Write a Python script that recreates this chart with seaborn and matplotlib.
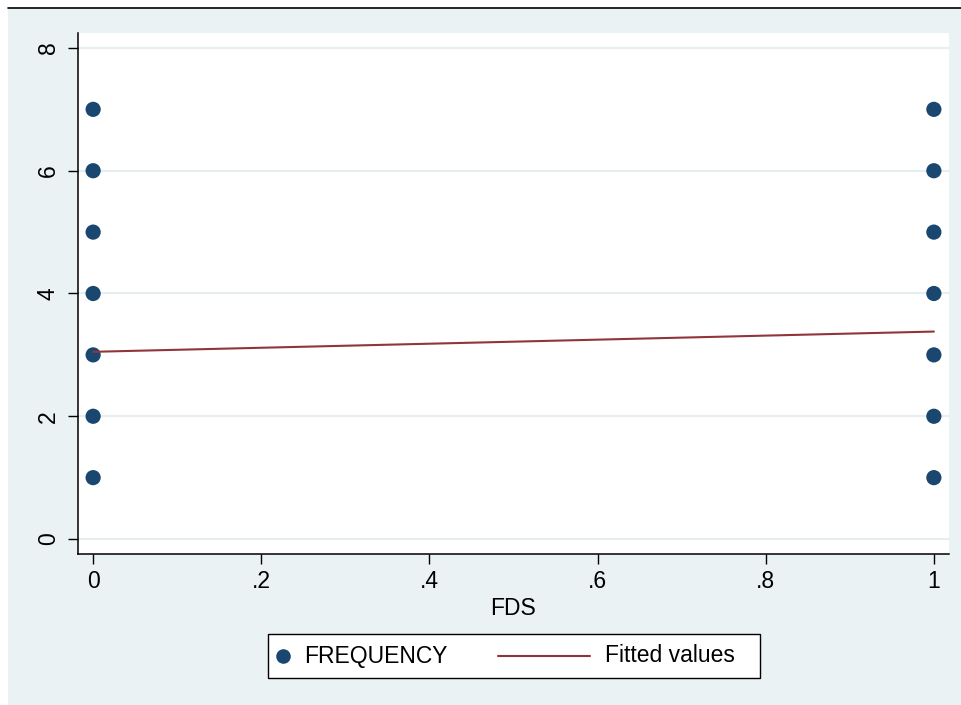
import matplotlib
matplotlib.use("Agg")
import matplotlib.pyplot as plt
from matplotlib.patches import Rectangle
from matplotlib.lines import Line2D
import pandas as pd
import seaborn as sns

# Observations: FDS indicator against FREQUENCY
fds = [0, 0, 0, 0, 0, 0, 0, 1, 1, 1, 1, 1, 1, 1]
frequency = [1, 2, 3, 4, 5, 6, 7, 1, 2, 3, 4, 5, 6, 7]

# Linear fit evaluated at the ends of the FDS range
fit_fds = [0, 1]
fit_values = [3.05, 3.38]

x_ticks = [0, 0.2, 0.4, 0.6, 0.8, 1]
x_tick_labels = ["0", ".2", ".4", ".6", ".8", "1"]
y_ticks = [0, 2, 4, 6, 8]
y_tick_labels = ["0", "2", "4", "6", "8"]

NAVY = "#1a476f"
MAROON = "#90353b"
BG = "#eaf2f3"
GRID = "#e6eef0"
FS = 16.5

sns.set_theme(style="white")
plt.rcParams["font.family"] = ["Liberation Sans", "DejaVu Sans"]
plt.rcParams["text.color"] = "black"
plt.rcParams["axes.labelcolor"] = "black"
plt.rcParams["xtick.color"] = "black"
plt.rcParams["ytick.color"] = "black"

W, H = 962, 705
fig = plt.figure(figsize=(W / 100, H / 100), dpi=100, facecolor="white")


def fx(px):
    return px / W


def fy(py):
    return 1 - py / H


# Outer graph region and top rule
fig.add_artist(Rectangle((fx(8), 0), 1 - fx(8), fy(8), transform=fig.transFigure,
                         facecolor=BG, edgecolor="none", zorder=0))
fig.add_artist(Line2D([fx(8), 1], [fy(7.5), fy(7.5)], transform=fig.transFigure,
                      color="black", lw=1.2, zorder=1))

ax = fig.add_axes([fx(78), fy(554), fx(949) - fx(78), fy(33) - fy(554)])
ax.set_facecolor("white")

obs = pd.DataFrame({"FDS": fds, "FREQUENCY": frequency})
fit = pd.DataFrame({"FDS": fit_fds, "Fitted values": fit_values})

sns.scatterplot(data=obs, x="FDS", y="FREQUENCY", ax=ax, color=NAVY, s=120,
                edgecolor="none", linewidth=0, zorder=3, legend=False)
sns.lineplot(data=fit, x="FDS", y="Fitted values", ax=ax, color=MAROON, lw=1.5,
             zorder=4, legend=False)

ax.set_xlim(-0.018, 1.018)
ax.set_ylim(-0.244, 8.244)
ax.set_xticks(x_ticks)
ax.set_xticklabels(x_tick_labels, fontsize=FS)
ax.set_yticks(y_ticks)
ax.set_yticklabels(y_tick_labels, fontsize=FS, rotation=90, va="center")
ax.set_xlabel("FDS", fontsize=FS, labelpad=3)
ax.set_ylabel("")

ax.yaxis.grid(True, color=GRID, lw=1.5, zorder=0)
ax.xaxis.grid(False)
ax.set_axisbelow(True)

for side in ("top", "right"):
    ax.spines[side].set_visible(False)
for side in ("left", "bottom"):
    ax.spines[side].set_color("black")
    ax.spines[side].set_linewidth(1.1)

ax.tick_params(axis="both", which="major", direction="out", length=7.2, width=1.0,
               color="black", labelcolor="black")
ax.tick_params(axis="y", pad=6)
ax.tick_params(axis="x", pad=4)
ax.tick_params(left=True, bottom=True)

# Legend box below the plot region
fig.add_artist(Rectangle((fx(268), fy(678)), fx(760) - fx(268), fy(634) - fy(678),
                         transform=fig.transFigure, facecolor="white",
                         edgecolor="black", lw=1.0, zorder=2))
fig.add_artist(Line2D([fx(283)], [fy(656)], transform=fig.transFigure, marker="o",
                      markersize=10.5, color=NAVY, markeredgewidth=0, zorder=3))
fig.text(fx(304), fy(656), "FREQUENCY", fontsize=FS, va="center", ha="left", zorder=3)
fig.add_artist(Line2D([fx(498), fx(590)], [fy(656), fy(656)], transform=fig.transFigure,
                      color=MAROON, lw=1.5, zorder=3))
fig.text(fx(605), fy(656), "Fitted values", fontsize=FS, va="center", ha="left", zorder=3)

fig.savefig("out.png", dpi=100, facecolor=fig.get_facecolor())
